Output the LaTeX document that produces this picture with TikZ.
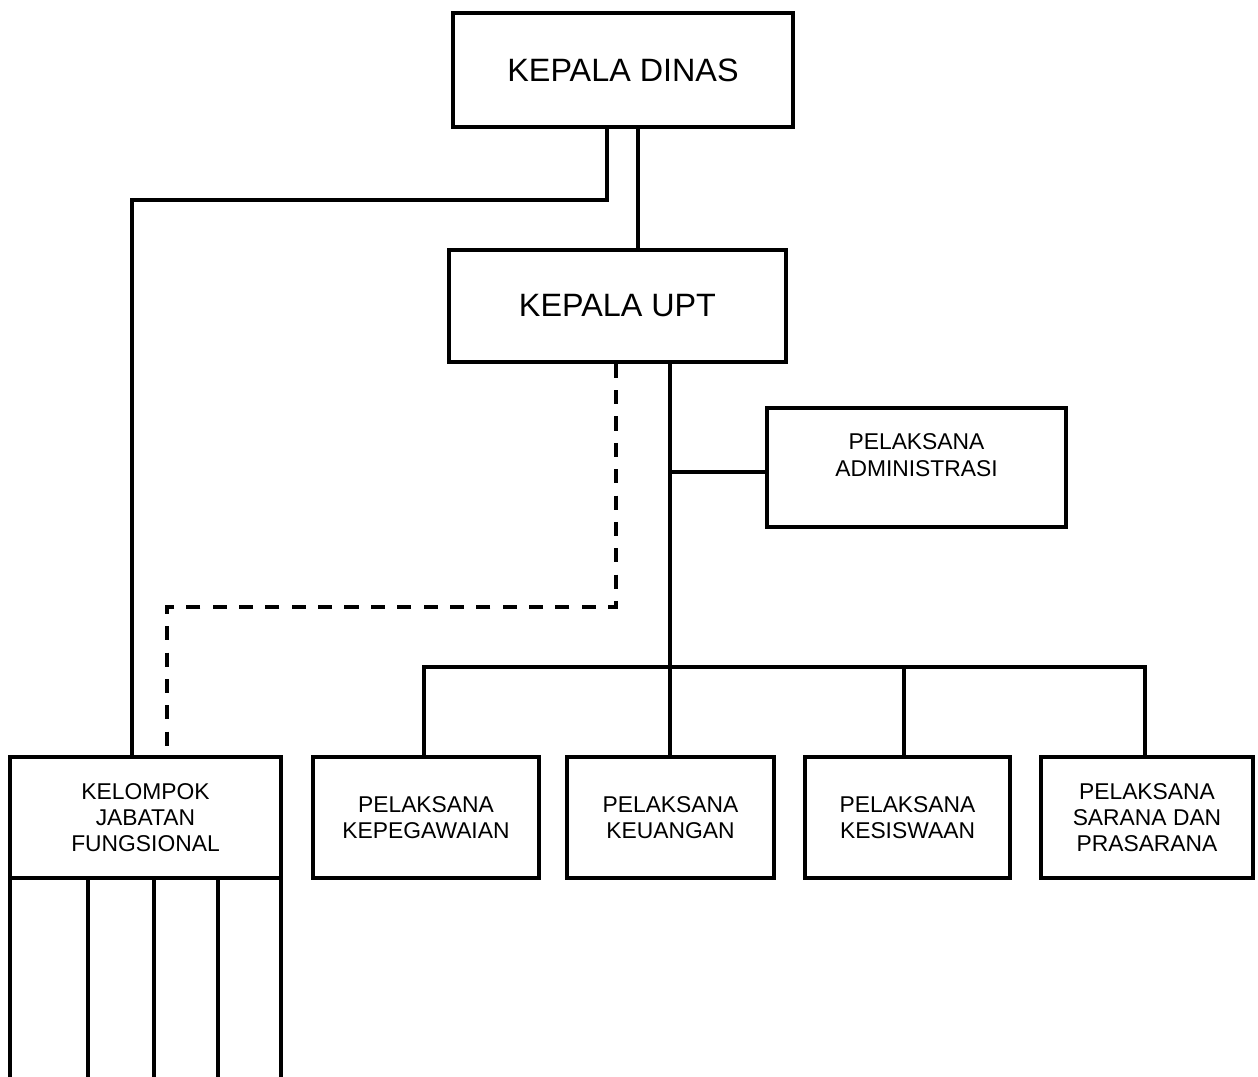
\documentclass[tikz,border=0pt]{standalone}
\usepackage{fontspec}
\setmainfont{Liberation Sans}
\usetikzlibrary{positioning}

\tikzset{
  box/.style={draw, line width=2pt, align=center, inner sep=2pt},
  bigtext/.style={font=\fontsize{18.4}{21}\selectfont},
  smalltext/.style={font=\fontsize{13}{15}\selectfont},
  conn/.style={line width=2pt},
  dashconn/.style={line width=2pt, dash pattern=on 8pt off 7pt}
}

\begin{document}
\begin{tikzpicture}[x=0.02cm, y=-0.02cm]
  \useasboundingbox (0,0) rectangle (1258,1077);
  % top
  \node (dinas) [box, bigtext, minimum width=6.8cm, minimum height=2.28cm] at (623,70) {KEPALA DINAS};
  \node (upt) [box, bigtext, minimum width=6.74cm, minimum height=2.24cm] at (617.5,306) {KEPALA UPT};
  \node (admin) [box, smalltext, minimum width=5.98cm, minimum height=2.38cm, text depth=0.5cm] at (916.5,467.5) {PELAKSANA\\ADMINISTRASI};
  % bottom row
  \node (kelompok) [box, smalltext, minimum width=5.42cm, minimum height=2.42cm] at (145.5,817.5) {KELOMPOK\\JABATAN\\FUNGSIONAL};
  \node (kepeg) [box, smalltext, minimum width=4.52cm, minimum height=2.42cm] at (426,817.5) {PELAKSANA\\KEPEGAWAIAN};
  \node (keu) [box, smalltext, minimum width=4.14cm, minimum height=2.42cm] at (670.5,817.5) {PELAKSANA\\KEUANGAN};
  \node (kesis) [box, smalltext, minimum width=4.1cm, minimum height=2.42cm] at (907.5,817.5) {PELAKSANA\\KESISWAAN};
  \node (sarana) [box, smalltext, minimum width=4.24cm, minimum height=2.42cm] at (1147,817.5) {PELAKSANA\\SARANA DAN\\PRASARANA};
  \coordinate (hub) at (670,667);
  %
  \draw[conn] (dinas.south -| 607,0) -- (607,200) -| (kelompok.north -| 132,0);
  \draw[conn] (dinas.south -| 638,0) -- (upt.north -| 638,0);
  \draw[conn] (upt.south -| hub) -- (hub);
  \draw[conn] (admin.west |- 0,472) -- (hub |- 0,472);
  \draw[dashconn] (upt.south -| 616,0) -- (616,607) -| (kelompok.north -| 167,0);
  \draw[conn] (kepeg.north -| 424,0) |- (hub) -| (sarana.north -| 1145,0);
  \draw[conn] (keu.north -| hub) -- (hub);
  \draw[conn] (kesis.north -| 904,0) -- (904,667);
  % columns under kelompok
  \foreach \x in {10,88,154,218,281}
    \draw[conn] (kelompok.south -| \x,0) -- (\x,1080);
\end{tikzpicture}
\end{document}
